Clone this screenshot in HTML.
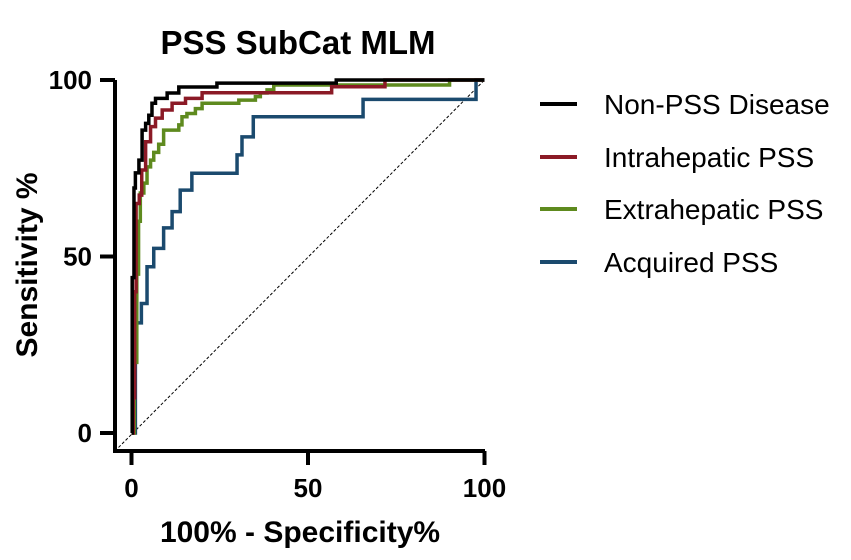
<!DOCTYPE html>
<html><head><meta charset="utf-8"><style>
body{margin:0;background:#fff;width:851px;height:555px;overflow:hidden;font-family:"Liberation Sans",Arial,sans-serif}
</style></head><body>
<svg id="chart" width="851" height="555" xmlns="http://www.w3.org/2000/svg" font-family="Liberation Sans, Arial, sans-serif">
<text x="298" y="54" font-size="33" font-weight="bold" text-anchor="middle">PSS SubCat MLM</text>
<text x="300" y="542" font-size="30" font-weight="bold" text-anchor="middle">100% - Specificity%</text>
<text transform="translate(37,265) rotate(-90)" font-size="30" font-weight="bold" text-anchor="middle">Sensitivity %</text>
<g id="axes"></g>
<g id="series"></g>
<g id="legend"></g>
</svg>
<script>
const xTicks=[0,50,100];
const yTicks=[0,50,100];
const seriesNames=["Non-PSS Disease","Intrahepatic PSS","Extrahepatic PSS","Acquired PSS"];
const seriesColors=["#000000","#8b1a26","#5e8a1e","#1b4a6e"];
const blackFpr=[0,0.2,0.7,1.1,2.1,3.0,4.0,4.9,5.8,6.8,10.1,13.4,24.2,58,100];
const blackTpr=[0,44,69.4,73.7,77.3,85.8,87.7,90,93.4,94.8,96.3,98,99.1,100,100];
const redFpr=[0,0.5,0.9,1.3,2.2,2.9,4.0,5.4,6.8,8.7,11.5,15.3,20,56.7,71.8,100];
const redTpr=[0,10,40,65,67.4,74.5,82.5,86.8,89.2,91.5,93.4,94.8,96.4,98.1,100,100];
const greenFpr=[0,0.8,1.5,2.0,2.5,3.5,4.4,5.4,6.3,7.7,9.1,13.4,14.3,15.7,18.1,20,30.4,35.1,36.5,38.4,40.3,90.1,100];
const greenTpr=[0,20,45,60,68,70.8,75.4,77.3,79.5,81.8,85.8,87.3,89.6,90.5,91.9,93.4,94.3,95.3,96.3,97.2,98.6,100,100];
const blueFpr=[0,1.1,1.1,2.8,4.4,6.3,9.1,11.5,13.8,17.1,29.9,31.3,34.5,65.6,97.6,100];
const blueTpr=[0,5.7,31.2,36.7,47.1,52.3,58.1,62.7,68.8,73.6,78.8,83.9,89.6,94.5,100,100];

const X0=131.5,X1=484.5,Y0=433,Y1=80;
const sx=v=>X0+(X1-X0)*v/100;
const sy=v=>Y0-(Y0-Y1)*v/100;
const NS="http://www.w3.org/2000/svg";
function mk(tag,attrs,parent){const e=document.createElementNS(NS,tag);for(const k in attrs)e.setAttribute(k,attrs[k]);parent.appendChild(e);return e;}
const axes=document.getElementById('axes');
let ax=mk('path',{d:`M115,80 V451 H485`,stroke:'#000','stroke-width':4,fill:'none'},axes);


xTicks.forEach(t=>{
 let l=mk('line',{x1:sx(t),x2:sx(t),y1:451,y2:465,stroke:'#000','stroke-width':4},axes);
 
 
 let tx=mk('text',{x:sx(t),y:497,'font-size':26,'font-weight':'bold','text-anchor':'middle'},axes);
 tx.textContent=t;
 
 
});
yTicks.forEach(t=>{
 let l=mk('line',{x1:100,x2:115,y1:sy(t),y2:sy(t),stroke:'#000','stroke-width':4},axes);
 
 
 let tx=mk('text',{x:92,y:sy(t)+9,'font-size':26,'font-weight':'bold','text-anchor':'end'},axes);
 tx.textContent=t;
 
 
});
let dg=mk('line',{x1:115,y1:451,x2:sx(100),y2:sy(100),stroke:'#000','stroke-width':1,'stroke-dasharray':'3,2'},axes);



const ser=document.getElementById('series');
const all=[[blueFpr,blueTpr],[greenFpr,greenTpr],[redFpr,redTpr],[blackFpr,blackTpr]];
const cols=[seriesColors[3],seriesColors[2],seriesColors[1],seriesColors[0]];
const names=['acquired-pss-curve','extrahepatic-pss-curve','intrahepatic-pss-curve','non-pss-disease-curve'];
all.forEach((s,i)=>{
 const [f,t]=s;let d=`M${sx(f[0])},${sy(t[0])}`;
 for(let k=1;k<f.length;k++){d+=` H${sx(f[k])} V${sy(t[k])}`;}
 let p=mk('path',{d:d,stroke:cols[i],'stroke-width':3.5,fill:'none'},ser);
 
 
});
const lg=document.getElementById('legend');
const ly=[104,157,209,262];
seriesNames.forEach((n,i)=>{
 let l=mk('line',{x1:540,x2:577,y1:ly[i],y2:ly[i],stroke:seriesColors[i],'stroke-width':4},lg);
 
 
 let tx=mk('text',{x:604,y:ly[i]+10,'font-size':28},lg);
 tx.textContent=n;
 
 
});
</script>
</body></html>
